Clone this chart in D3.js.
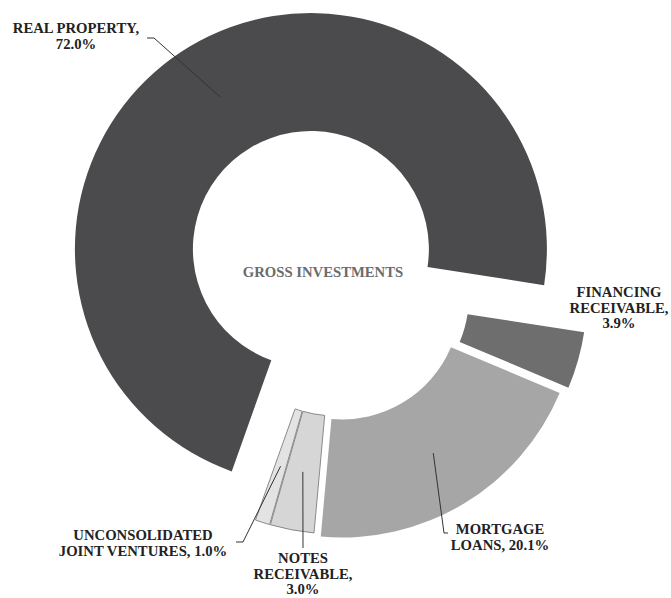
<!DOCTYPE html>
<html>
<head>
    <title>Gross Investments</title>
    <style>
        html, body {
            margin: 0;
            padding: 0;
            background: #fff;
        }
        .slice-label {
            font-family: "Liberation Serif", "Times New Roman", serif;
            font-weight: bold;
            font-size: 14.7px;
            fill: #222;
            text-anchor: middle;
        }
        .center-label {
            font-family: "Liberation Serif", "Times New Roman", serif;
            font-weight: bold;
            font-size: 14.7px;
            fill: #6b6b6b;
            text-anchor: middle;
        }
    </style>
    <script src="https://d3js.org/d3.v7.min.js"></script>
</head>
<body>
    <svg id="chart"></svg>
</body>
<script>
// data (percent of gross investments)
const categories = ["REAL PROPERTY", "FINANCING RECEIVABLE", "MORTGAGE LOANS", "NOTES RECEIVABLE", "UNCONSOLIDATED JOINT VENTURES"];
const values = [72.0, 3.9, 20.1, 3.0, 1.0];
const centerTitle = "GROSS INVESTMENTS";

const width = 671, height = 598;
const cx = 336.5, cy = 292;
const outerR = 236, innerR = 118;
const startDeg = 199.6;

// per slice styling / layout
const fills = ["#4b4b4d", "#6e6e6e", "#a6a6a6", "#d6d6d6", "#e3e3e3"];
const strokes = ["none", "none", "none", "#8a8a8a", "#8a8a8a"];
const explode = [50, 15, 11, 6, 6];
const wordsPerLine = [[2, 1], [1, 1, 1], [1, 2], [1, 1, 1], [1, 3]];
const labelPos = [[76, 33], [619, 297], [500, 534], [303, 563], [143, 540]];
const leaderBends = [
    [[154, 38], [147, 38]],
    null,
    [[444, 533], [448, 533]],
    [[303, 548]],
    [[243, 542], [236, 542]]
];

const data = categories.map((c, i) => ({ name: c, value: values[i], i: i }));

const svg = d3.select("#chart")
    .attr("width", width)
    .attr("height", height);

const g = svg.append("g")
    .attr("transform", "translate(" + cx + "," + cy + ")");

const pie = d3.pie()
    .sort(null)
    .value(d => d.value)
    .startAngle(startDeg * Math.PI / 180)
    .endAngle(startDeg * Math.PI / 180 + 2 * Math.PI);

const arc = d3.arc()
    .innerRadius(innerR)
    .outerRadius(outerR);

const arcs = pie(data);

function offset(d) {
    const mid = (d.startAngle + d.endAngle) / 2;
    const e = explode[d.data.i];
    return [Math.sin(mid) * e, -Math.cos(mid) * e];
}

g.selectAll(".slice")
    .data(arcs)
    .enter()
    .append("path")
    .attr("class", "slice")
    .attr("transform", d => "translate(" + offset(d) + ")")
    .attr("d", arc)
    .attr("fill", d => fills[d.data.i])
    .attr("stroke", d => strokes[d.data.i])
    .attr("stroke-width", 1);

// leader lines from the slice centroid
const line = d3.line();
arcs.forEach(d => {
    const bends = leaderBends[d.data.i];
    if (!bends) return;
    const c = arc.centroid(d);
    const o = offset(d);
    const pts = [[cx + c[0] + o[0], cy + c[1] + o[1]]].concat(bends);
    svg.append("path")
        .attr("d", line(pts))
        .attr("fill", "none")
        .attr("stroke", "#333")
        .attr("stroke-width", 1);
});

// slice labels
arcs.forEach(d => {
    const i = d.data.i;
    const words = (d.data.name + ", " + d.data.value.toFixed(1) + "%").split(" ");
    const lines = [];
    let k = 0;
    wordsPerLine[i].forEach(n => {
        lines.push(words.slice(k, k + n).join(" "));
        k += n;
    });
    const t = svg.append("text")
        .attr("class", "slice-label")
        .attr("x", labelPos[i][0])
        .attr("y", labelPos[i][1]);
    lines.forEach((s, j) => {
        t.append("tspan")
            .attr("x", labelPos[i][0])
            .attr("dy", j === 0 ? 0 : 15.5)
            .text(s);
    });
});

svg.append("text")
    .attr("class", "center-label")
    .attr("x", 323)
    .attr("y", 277)
    .text(centerTitle);
</script>
</html>
